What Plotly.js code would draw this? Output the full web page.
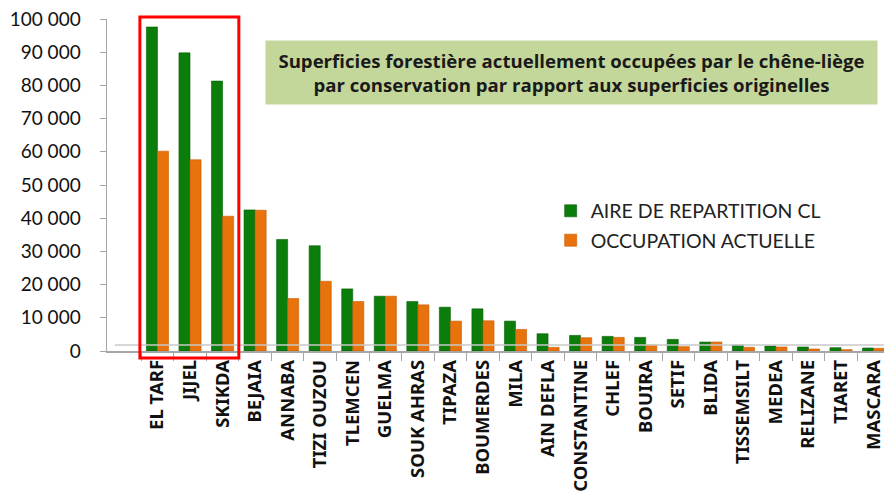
<!DOCTYPE html>
<html>
<head>
<meta charset="utf-8">
<script src="https://cdn.plot.ly/plotly-3.0.1.min.js"></script>
<style>html,body{margin:0;padding:0;background:#fff;}#chart{width:884px;height:499px;}</style>
</head>
<body>
<div id="chart"></div>
<script>
const wilayas = ["EL TARF","JIJEL","SKIKDA","BEJAIA","ANNABA","TIZI OUZOU","TLEMCEN","GUELMA","SOUK AHRAS","TIPAZA","BOUMERDES","MILA","AIN DEFLA","CONSTANTINE","CHLEF","BOUIRA","SETIF","BLIDA","TISSEMSILT","MEDEA","RELIZANE","TIARET","MASCARA"];
const aireRepartition = [97600, 89800, 81300, 42500, 33600, 31700, 18700, 16500, 14900, 13200, 12700, 9000, 5200, 4700, 4400, 4100, 3500, 2700, 1800, 1500, 1200, 1000, 900];
const occupationActuelle = [60200, 57600, 40600, 42400, 15800, 21000, 14900, 16500, 13900, 9000, 9100, 6500, 1100, 4000, 4100, 1800, 1300, 2700, 1100, 1200, 600, 400, 800];
const seriesNames = ["AIRE DE REPARTITION CL", "OCCUPATION ACTUELLE"];
const yTicks = [0, 10000, 20000, 30000, 40000, 50000, 60000, 70000, 80000, 90000, 100000];
const titleText = "Superficies forestière actuellement occupées par le chêne-liège<br>par conservation par rapport aux superficies originelles";

const traces = [
  {type:"bar", name: seriesNames[0], x: wilayas, y: aireRepartition, legendgroup:"a",
   marker:{color:"#0b7d0b", line:{color:"#066006", width:0.6}}},
  {type:"bar", name: seriesNames[1], x: wilayas, y: occupationActuelle, legendgroup:"b",
   marker:{color:"#e8720c", line:{color:"#c55a05", width:0.6}}}
];

const layout = {
  width: 884, height: 499,
  margin: {l:107, r:0, t:19, b:148},
  paper_bgcolor:"#ffffff", plot_bgcolor:"#ffffff",
  separators: ", ",
  barmode:"group", bargap:0.32, bargroupgap:0,
  showlegend:true,
  legend:{x:0.571, y:0.48, xanchor:"left", yanchor:"top", bgcolor:"rgba(0,0,0,0)",
          font:{family:"Lato, 'Open Sans', sans-serif", size:19.5, color:"#222222"},
          itemwidth:30, tracegroupgap:1},
  xaxis:{type:"category", range:[-1.55, 22.32], showgrid:false, zeroline:false,
         showline:true, linecolor:"#a6a6a6", linewidth:1.5,
         ticks:"outside", tickson:"boundaries", ticklen:8, tickcolor:"#a6a6a6",
         tickangle:-90, automargin:false,
         tickfont:{family:"'Noto Sans', sans-serif", size:18.5, color:"#111111", weight:"bold"}},
  yaxis:{range:[0, 100000], tickvals:yTicks, tickformat:",d", showgrid:false, zeroline:false,
         showline:true, linecolor:"#a6a6a6", linewidth:1.5,
         ticks:"outside", ticklen:6, tickcolor:"#a6a6a6", automargin:false, ticklabelstandoff:15,
         tickfont:{family:"Lato, 'Open Sans', sans-serif", size:19, color:"#111111"}},
  shapes:[
    {type:"line", xref:"paper", yref:"paper", x0:0.01, x1:1, y0:0.018, y1:0.018,
     line:{color:"#c8c8c8", width:1.5}},
    {type:"rect", xref:"x", yref:"paper", x0:-0.54, x1:2.5, y0:-0.021, y1:1.006,
     line:{color:"#ff0000", width:3}, fillcolor:"rgba(0,0,0,0)"}
  ],
  annotations:[
    {xref:"paper", yref:"paper", x:0.9923, y:0.9367, xanchor:"right", yanchor:"top",
     text:"<b>"+titleText+"</b>", showarrow:false, align:"center",
     bgcolor:"#c4d79b", width:605, height:57, borderpad:3,
     font:{family:"'Open Sans', Lato, sans-serif", size:18.6, color:"#1a1a1a"}}
  ]
};

Plotly.newPlot("chart", traces, layout, {displayModeBar:false, staticPlot:true});
</script>
</body>
</html>
